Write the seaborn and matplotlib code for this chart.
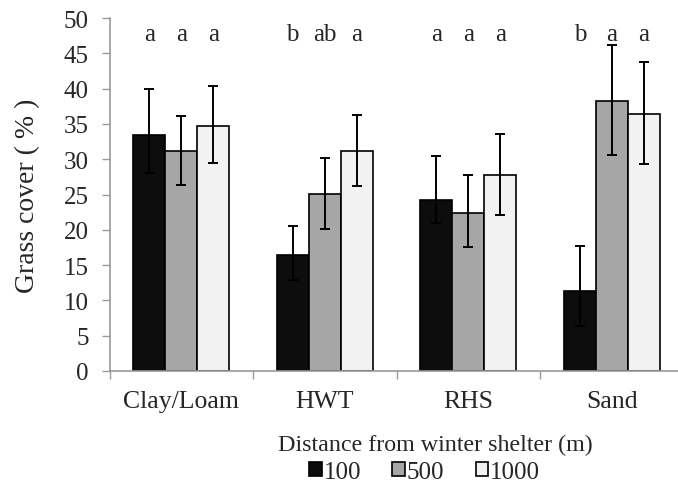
import numpy as np
import pandas as pd
import matplotlib
matplotlib.use("Agg")
import matplotlib.pyplot as plt
import seaborn as sns

categories = ["Clay/Loam", "HWT", "RHS", "Sand"]
distances = ["100", "500", "1000"]
cover_100 = [33.4, 16.5, 24.2, 11.4]
cover_500 = [31.1, 25.1, 22.4, 38.3]
cover_1000 = [34.7, 31.1, 27.7, 36.4]
upper_100 = [39.9, 20.5, 30.4, 17.7]
upper_500 = [36.1, 30.2, 27.8, 46.2]
upper_1000 = [40.3, 36.2, 33.5, 43.7]
lower_100 = [28.0, 12.9, 20.9, 6.4]
lower_500 = [26.4, 20.1, 17.5, 30.6]
lower_1000 = [29.4, 26.2, 22.1, 29.3]
letters_100 = ["a", "b", "a", "b"]
letters_500 = ["a", "ab", "a", "a"]
letters_1000 = ["a", "a", "a", "a"]

colors = ["#0d0d0d", "#a6a6a6", "#f2f2f2"]

rows = []
for d, vals, lo, hi, let in [("100", cover_100, lower_100, upper_100, letters_100),
                             ("500", cover_500, lower_500, upper_500, letters_500),
                             ("1000", cover_1000, lower_1000, upper_1000, letters_1000)]:
    for c, v, l, h, t in zip(categories, vals, lo, hi, let):
        rows.append(dict(soil=c, dist=d, cover=v, lo=l, hi=h, letter=t))
df = pd.DataFrame(rows)

sns.set_style("white")
plt.rcParams["font.family"] = ["Liberation Serif", "DejaVu Serif"]

fig = plt.figure(figsize=(6.78, 4.89), dpi=100)
ax = fig.add_axes([109.5 / 678, 1 - 372 / 489, (678 - 109.5) / 678, (372 - 19) / 489])

sns.barplot(data=df, x="soil", y="cover", hue="dist", order=categories,
            hue_order=distances, palette=colors, width=0.67, errorbar=None,
            edgecolor="black", linewidth=1.2, ax=ax, legend=True, saturation=1)

# error bars and letters
for hi_idx, d in enumerate(distances):
    container = ax.containers[hi_idx]
    sub = df[df.dist == d].set_index("soil").loc[categories]
    for bar, (_, r) in zip(container.patches, sub.iterrows()):
        xc = bar.get_x() + bar.get_width() / 2
        ax.errorbar([xc], [r.cover], yerr=[[r.cover - r.lo], [r.hi - r.cover]],
                    fmt="none", ecolor="black", elinewidth=1.4, capsize=3.8, capthick=1.4)
        ax.text(xc, 47.7, r.letter, ha="center", va="center", fontsize=18)

ax.set_ylim(0, 50)
ax.set_xlim(-0.5, 3.46)
ax.set_yticks(np.arange(0, 51, 5))
ax.set_xlabel("")
ax.set_ylabel("Grass cover ( % )", fontsize=20, labelpad=17)
ax.tick_params(axis="y", labelsize=18, direction="out", length=6, color="#999999", width=1, left=True, pad=9)
ax.tick_params(axis="x", labelsize=18.5, length=0, pad=14)
ax.set_xticks([-0.5, 0.5, 1.5, 2.5], minor=True)
ax.tick_params(axis="x", which="minor", direction="out", length=6, color="#999999", width=1, bottom=True)
for s in ["top", "right"]:
    ax.spines[s].set_visible(False)
for s in ["left", "bottom"]:
    ax.spines[s].set_color("#999999")
    ax.spines[s].set_linewidth(1.2)

handles, labels = ax.get_legend_handles_labels()
ax.legend_.remove()
fig.text(435 / 678, 1 - 445 / 489, "Distance from winter shelter (m)", ha="center", va="center",
         fontsize=17.3)
leg = fig.legend(handles, labels, ncol=3,
                 frameon=False, loc="center left", bbox_to_anchor=(309 / 678, 1 - 473 / 489),
                 fontsize=18, handlelength=0.5, handleheight=0.5,
                 handletextpad=0.08, columnspacing=1.25, borderpad=0, borderaxespad=0)

fig.savefig("out.png", dpi=100)
